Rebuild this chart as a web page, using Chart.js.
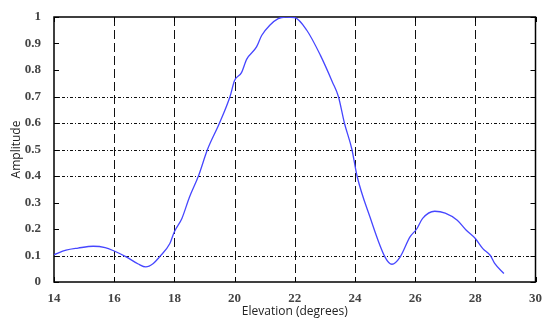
<!DOCTYPE html>
<html>
<head>
<meta charset="utf-8">
<script src="https://cdn.jsdelivr.net/npm/chart.js@4/dist/chart.umd.min.js"></script>
<style>
  html, body { margin: 0; padding: 0; background: #fff; }
  #wrap { width: 543px; height: 320px; }
</style>
</head>
<body>
<div id="wrap"><canvas id="beam"></canvas></div>
<script>
// elevation cut of the beam pattern
const elevation = [14.0, 14.4, 14.8, 15.3, 15.7, 16.0, 16.4, 16.8, 17.05, 17.3, 17.5, 17.85, 18.0, 18.25, 18.5, 18.8,
  19.1, 19.5, 19.85, 20.0, 20.23, 20.4, 20.73, 20.9, 21.17, 21.45, 21.7, 22.0, 22.4, 22.85, 23.25, 23.45, 23.65,
  23.9, 24.07, 24.5, 25.0, 25.23, 25.5, 25.83, 26.05, 26.25, 26.65, 27.0, 27.4, 27.7, 28.0, 28.25, 28.5, 28.65, 28.95];
const amplitude = [0.103, 0.12, 0.128, 0.135, 0.13, 0.117, 0.095, 0.068, 0.057, 0.07, 0.094, 0.145, 0.19, 0.24, 0.32, 0.40,
  0.50, 0.60, 0.70, 0.76, 0.79, 0.84, 0.887, 0.93, 0.969, 0.994, 1.0, 0.998, 0.95, 0.856, 0.755, 0.70, 0.60,
  0.50, 0.40, 0.245, 0.094, 0.067, 0.094, 0.17, 0.20, 0.24, 0.267, 0.26, 0.233, 0.195, 0.164, 0.126, 0.10, 0.069, 0.032];

const xTicks = [14, 16, 18, 20, 22, 24, 26, 28, 30];
const xTickLabels = ['14', '16', '18', '20', '22', '24', '26', '28', '30'];
const yTicks = [0, 0.1, 0.2, 0.3, 0.4, 0.5, 0.6, 0.7, 0.8, 0.9, 1];
const yTickLabels = ['0', '0.1', '0.2', '0.3', '0.4', '0.5', '0.6', '0.7', '0.8', '0.9', '1'];
const vGrid = [16, 18, 20, 22, 24, 26, 28];
const hGrid = [0.1, 0.4, 0.5, 0.6, 0.7];

// frame, grid and inward tick marks
const framePlugin = {
  id: 'frame',
  beforeDatasetsDraw(chart) {
    const { ctx, chartArea: a, scales: { x, y } } = chart;
    ctx.save();
    ctx.strokeStyle = '#111';
    ctx.lineWidth = 1;
    ctx.setLineDash([9, 4]);
    vGrid.forEach(v => {
      const px = Math.round(x.getPixelForValue(v)) + 0.5;
      ctx.beginPath(); ctx.moveTo(px, a.top); ctx.lineTo(px, a.bottom); ctx.stroke();
    });
    ctx.setLineDash([3, 2, 1, 2]);
    hGrid.forEach(v => {
      const py = Math.round(y.getPixelForValue(v)) + 0.5;
      ctx.beginPath(); ctx.moveTo(a.left, py); ctx.lineTo(a.right, py); ctx.stroke();
    });
    ctx.setLineDash([]);
    ctx.strokeStyle = '#000';
    yTicks.forEach(v => {
      const py = Math.round(y.getPixelForValue(v)) + 0.5;
      ctx.beginPath();
      ctx.moveTo(a.left, py); ctx.lineTo(a.left + 5, py);
      ctx.moveTo(a.right, py); ctx.lineTo(a.right - 5, py);
      ctx.stroke();
    });
    xTicks.forEach(v => {
      const px = Math.round(x.getPixelForValue(v)) + 0.5;
      ctx.beginPath();
      ctx.moveTo(px, a.bottom); ctx.lineTo(px, a.bottom - 5);
      ctx.moveTo(px, a.top); ctx.lineTo(px, a.top + 5);
      ctx.stroke();
    });
    ctx.lineWidth = 1.5;
    ctx.strokeRect(a.left, a.top, a.right - a.left, a.bottom - a.top);
    ctx.restore();
  }
};

const tickFont = { family: '"Liberation Serif", "DejaVu Serif", serif', size: 13, weight: 'bold' };
const titleFont = { family: '"Open Sans", "Liberation Sans", sans-serif', size: 12 };

new Chart(document.getElementById('beam'), {
  type: 'line',
  data: {
    datasets: [{
      data: elevation.map((e, i) => ({ x: e, y: amplitude[i] })),
      borderColor: 'rgb(70, 70, 255)',
      borderWidth: 1.3,
      pointRadius: 0,
      cubicInterpolationMode: 'monotone',
      fill: false
    }]
  },
  options: {
    responsive: true,
    maintainAspectRatio: false,
    animation: false,
    layout: { padding: { top: 17, right: 3, left: 0, bottom: 0 } },
    plugins: { legend: { display: false }, tooltip: { enabled: false } },
    scales: {
      x: {
        type: 'linear', min: 14, max: 30,
        afterBuildTicks: s => { s.ticks = xTicks.map(v => ({ value: v })); },
        afterFit: s => { s.height = 38; },
        grid: { display: false },
        border: { display: false },
        ticks: {
          padding: 1, color: '#444', font: tickFont, maxRotation: 0, autoSkip: false,
          callback: (v, i) => xTickLabels[i]
        },
        title: { display: true, text: 'Elevation (degrees)', color: '#222', font: titleFont, padding: { top: 0, bottom: 1 } }
      },
      y: {
        min: 0, max: 1,
        afterBuildTicks: s => { s.ticks = yTicks.map(v => ({ value: v })); },
        afterFit: s => { s.width = 54; },
        grid: { display: false },
        border: { display: false },
        ticks: {
          padding: 5, color: '#444', font: tickFont, autoSkip: false,
          callback: (v, i) => yTickLabels[i]
        },
        title: { display: true, text: 'Amplitude', color: '#222', font: titleFont, padding: { top: 9, bottom: 0 } }
      }
    }
  },
  plugins: [framePlugin]
});
</script>
</body>
</html>
